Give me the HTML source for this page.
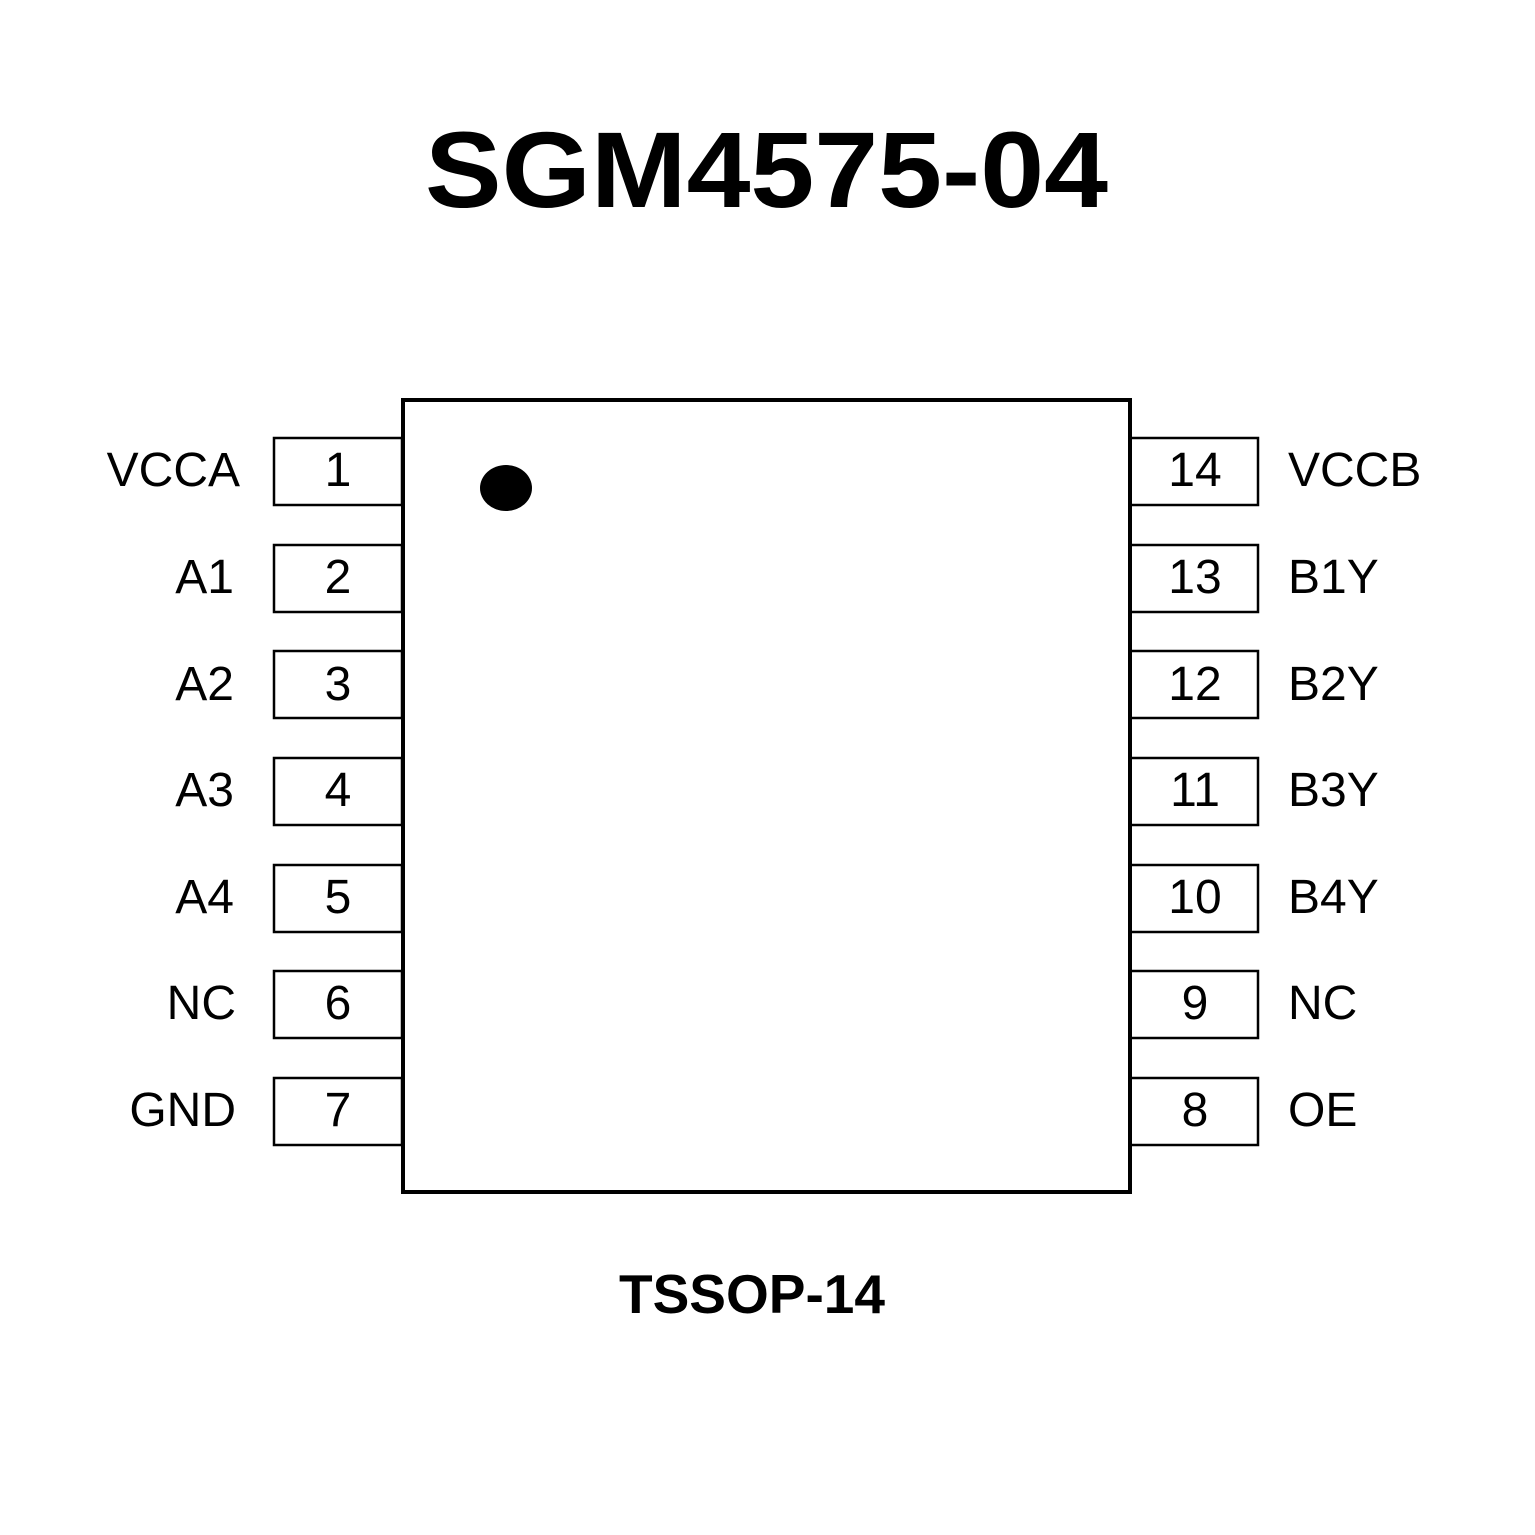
<!DOCTYPE html>
<html><head><meta charset="utf-8"><style>html,body{margin:0;padding:0;background:#fff}svg{display:block}</style></head>
<body>
<svg width="1535" height="1535" viewBox="0 0 1535 1535" xmlns="http://www.w3.org/2000/svg" font-family="Liberation Sans, sans-serif">
<rect width="1535" height="1535" fill="#fff"/>
<text x="425" y="207" font-size="108" font-weight="bold" textLength="683" lengthAdjust="spacingAndGlyphs">SGM4575-04</text>
<g fill="#fff" stroke="#000" stroke-width="2.5">
<rect x="274" y="438" width="128" height="67"/>
<rect x="274" y="545" width="128" height="67"/>
<rect x="274" y="651" width="128" height="67"/>
<rect x="274" y="758" width="128" height="67"/>
<rect x="274" y="865" width="128" height="67"/>
<rect x="274" y="971" width="128" height="67"/>
<rect x="274" y="1078" width="128" height="67"/>
<rect x="1130" y="438" width="128" height="67"/>
<rect x="1130" y="545" width="128" height="67"/>
<rect x="1130" y="651" width="128" height="67"/>
<rect x="1130" y="758" width="128" height="67"/>
<rect x="1130" y="865" width="128" height="67"/>
<rect x="1130" y="971" width="128" height="67"/>
<rect x="1130" y="1078" width="128" height="67"/>
</g>
<rect x="403" y="400" width="727" height="792" fill="#fff" stroke="#000" stroke-width="4"/>
<ellipse cx="506" cy="488" rx="26" ry="23" fill="#000"/>
<g font-size="48" fill="#000">
<g text-anchor="middle">
<text x="338" y="486">1</text><text x="338" y="593">2</text><text x="338" y="700">3</text><text x="338" y="806">4</text><text x="338" y="913">5</text><text x="338" y="1019">6</text><text x="338" y="1126">7</text>
<text x="1195" y="486">14</text><text x="1195" y="593">13</text><text x="1195" y="700">12</text><text x="1195" y="806">11</text><text x="1195" y="913">10</text><text x="1195" y="1019">9</text><text x="1195" y="1126">8</text>
</g>
<g text-anchor="end">
<text x="240" y="486">VCCA</text><text x="234" y="593">A1</text><text x="234" y="700">A2</text><text x="234" y="806">A3</text><text x="234" y="913">A4</text><text x="236" y="1019">NC</text><text x="236" y="1126">GND</text>
</g>
<g>
<text x="1288" y="486">VCCB</text><text x="1288" y="593">B1Y</text><text x="1288" y="700">B2Y</text><text x="1288" y="806">B3Y</text><text x="1288" y="913">B4Y</text><text x="1288" y="1019">NC</text><text x="1288" y="1126">OE</text>
</g>
</g>
<text x="619" y="1313" font-size="55" font-weight="bold" textLength="266" lengthAdjust="spacingAndGlyphs">TSSOP-14</text>
</svg>
</body></html>
